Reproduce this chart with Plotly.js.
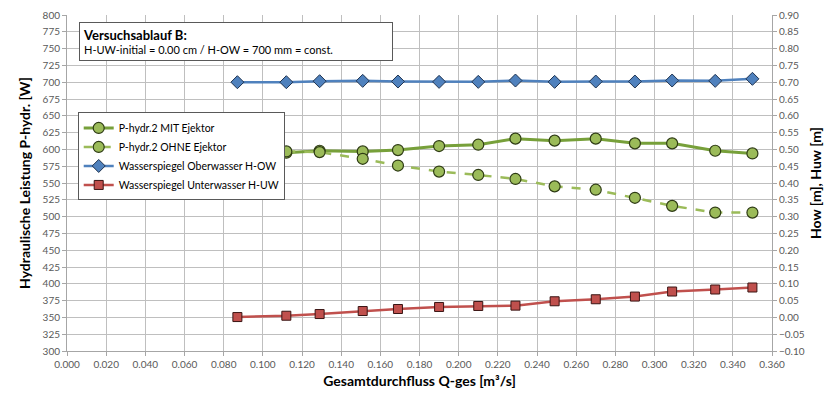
<!DOCTYPE html>
<html>
<head>
<meta charset="utf-8">
<script src="https://cdn.plot.ly/plotly-3.0.1.min.js"></script>
<style>html,body{margin:0;padding:0;background:#fff;}#chart{width:824px;height:393px;}</style>
</head>
<body>
<div id="chart"></div>
<script>
// Data
const qAll = [0.087, 0.112, 0.129, 0.151, 0.169, 0.190, 0.210, 0.229, 0.249, 0.270, 0.290, 0.309, 0.331, 0.350];
const qGreen = [0.112, 0.129, 0.151, 0.169, 0.190, 0.210, 0.229, 0.249, 0.270, 0.290, 0.309, 0.331, 0.350];
const pMit  = [595, 598, 597, 599, 605, 607, 616, 613, 616, 609, 609, 598, 594];
const pOhne = [597, 596, 586, 576, 567, 562, 556, 545, 540, 528, 516, 506, 506];
const hOW = [0.700, 0.700, 0.703, 0.704, 0.702, 0.701, 0.701, 0.705, 0.701, 0.702, 0.702, 0.705, 0.704, 0.710];
const hUW = [0.001, 0.005, 0.010, 0.019, 0.025, 0.031, 0.034, 0.035, 0.048, 0.054, 0.062, 0.077, 0.083, 0.089];
const names = ['P-hydr.2 MIT Ejektor', 'P-hydr.2 OHNE Ejektor', 'Wasserspiegel Oberwasser H-OW', 'Wasserspiegel Unterwasser H-UW'];

const FONT = 'Lato, "Open Sans", sans-serif';
const traces = [
  {x: qGreen, y: pMit, name: names[0], type: 'scatter', mode: 'lines+markers',
   line: {color: '#77A03A', width: 3},
   marker: {symbol: 'circle', size: 11, color: '#9BBB59', line: {color: '#2E3B14', width: 1.2}}},
  {x: qGreen, y: pOhne, name: names[1], type: 'scatter', mode: 'lines+markers',
   line: {color: '#9BBB59', width: 2.5, dash: 'dash'},
   marker: {symbol: 'circle', size: 11, color: '#9BBB59', line: {color: '#2E3B14', width: 1.2}}},
  {x: qAll, y: hOW, name: names[2], type: 'scatter', mode: 'lines+markers', yaxis: 'y2',
   line: {color: '#4F81BD', width: 2.5},
   marker: {symbol: 'diamond', size: 10, color: '#4F81BD', line: {color: '#1F3350', width: 1}}},
  {x: qAll, y: hUW, name: names[3], type: 'scatter', mode: 'lines+markers', yaxis: 'y2',
   line: {color: '#C0504D', width: 2.5},
   marker: {symbol: 'square', size: 9, color: '#C0504D', line: {color: '#3A1413', width: 1}}}
];

const tickFont = {family: FONT, size: 10, color: '#595959'};
const titleFont = {family: FONT, size: 14, color: '#000', weight: 'bold'};
const layout = {
  width: 824, height: 393,
  margin: {l: 67, r: 52, t: 15, b: 42},
  paper_bgcolor: '#fff', plot_bgcolor: '#fff',
  showlegend: true,
  font: {family: FONT, color: '#000'},
  xaxis: {range: [0, 0.36], dtick: 0.02, tick0: 0, tickformat: '.3f',
    showgrid: true, gridcolor: '#BFBFBF', gridwidth: 1,
    showline: true, linecolor: '#A6A6A6', ticks: 'outside', ticklen: 4, tickcolor: '#A6A6A6',
    zeroline: false, tickfont: tickFont,
    title: {text: 'Gesamtdurchfluss Q-ges [m³/s]', font: titleFont, standoff: 7}},
  yaxis: {range: [300, 800], dtick: 25, tick0: 300,
    showgrid: true, gridcolor: '#BFBFBF', gridwidth: 1,
    showline: true, linecolor: '#A6A6A6', ticks: 'outside', ticklen: 4, tickcolor: '#A6A6A6',
    zeroline: false, tickfont: tickFont,
    title: {text: 'Hydraulische Leistung P-hydr. [W]', font: titleFont, standoff: 8}},
  yaxis2: {overlaying: 'y', side: 'right', range: [-0.1, 0.9], dtick: 0.05, tick0: -0.1, tickformat: '.2f',
    showgrid: false, showline: true, linecolor: '#A6A6A6', ticks: 'outside', ticklen: 4, tickcolor: '#A6A6A6',
    zeroline: false, tickfont: tickFont,
    title: {text: 'How [m], Huw [m]', font: titleFont, standoff: 8}},
  legend: {x: 0.0152, y: 0.71, xanchor: 'left', yanchor: 'top',
    bgcolor: '#fff', bordercolor: '#595959', borderwidth: 1,
    font: {family: FONT, size: 10.5, color: '#000'}, tracegroupgap: 0, itemwidth: 30},
  annotations: [{
    xref: 'paper', yref: 'paper', x: 0.017, y: 0.98, xanchor: 'left', yanchor: 'top',
    text: '<span style="font-size:13px"><b>Versuchsablauf B:</b></span><br>H-UW-initial = 0.00 cm / H-OW = 700 mm = const.',
    showarrow: false, align: 'left', width: 306, height: 31,
    font: {family: FONT, size: 11, color: '#000'},
    bgcolor: '#fff', bordercolor: '#595959', borderwidth: 1, borderpad: 3
  }]
};
Plotly.newPlot('chart', traces, layout, {displayModeBar: false, staticPlot: true});
</script>
</body>
</html>
